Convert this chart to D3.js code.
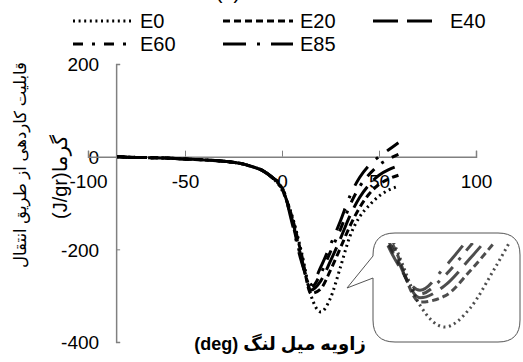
<!DOCTYPE html>
<html>
<head>
<meta charset="utf-8">
<script src="https://cdn.jsdelivr.net/npm/d3@7"></script>
<style>
  body { margin: 0; background: #fff; }
  svg { display: block; font-family: Arial, "Liberation Sans", "DejaVu Sans", sans-serif; }
</style>
</head>
<body>
<svg id="chart" width="523" height="362"></svg>
<script>
// crank angle (deg) and heat release per series (J/gr)
const angles = [-85, -80, -70, -60, -50, -40, -30, -20, -15, -10, -5, 0, 5, 10, 15, 20, 25, 30, 35, 40, 45, 50, 55, 60];
const e0  = [0, -1, -2, -3, -5, -7, -10, -16, -22, -30, -45, -72, -125, -205, -300, -335, -305, -240, -172, -130, -105, -85, -72, -64];
const e20 = [0, -1, -2, -3, -5, -7, -10, -16, -22, -30, -45, -70, -128, -210, -295, -285, -245, -198, -150, -110, -80, -60, -48, -40];
const e40 = [0, -1, -2, -3, -5, -7, -10, -16, -22, -30, -45, -68, -132, -218, -288, -268, -225, -178, -128, -88, -60, -40, -28, -20];
const e60 = [0, -1, -2, -3, -5, -7, -10, -16, -22, -30, -45, -66, -136, -222, -282, -252, -205, -158, -105, -65, -38, -18, -5, 5];
const e85 = [0, -1, -2, -3, -5, -7, -10, -16, -22, -30, -45, -64, -140, -226, -276, -238, -190, -140, -85, -45, -18, 0, 15, 30];

const seriesNames = ["E0", "E20", "E40", "E60", "E85"];
const seriesValues = [e0, e20, e40, e60, e85];
const dashes = ["2,3.6", "7,4", "25,9", "10,9,3,9", "23,11,3,11"];

const xTicks = [-100, -50, 0, 50, 100];
const yTicks = [-400, -200, 0, 200];

const svg = d3.select("#chart");
svg.append("rect").attr("width", 523).attr("height", 362).attr("fill", "#fff");

const x = d3.scaleLinear().domain([-100, 100]).range([88, 476]);
const y = d3.scaleLinear().domain([-400, 200]).range([342, 64]);
const yCross = -85.5;

// title, cut by the top edge as in the original
svg.append("text").attr("x", 228).attr("y", -1).attr("text-anchor", "middle")
  .attr("font-size", 20).text("(a)");

// y axis
const gy = svg.append("g")
  .attr("transform", "translate(" + x(yCross) + ",0)")
  .call(d3.axisLeft(y).tickValues(yTicks).tickFormat(d => String(d)).tickSize(-4).tickPadding(17));

// x axis at zero
const gx = svg.append("g")
  .attr("transform", "translate(0," + y(0) + ")")
  .call(d3.axisBottom(x).tickValues(xTicks).tickFormat(d => String(d)).tickSize(-6).tickPadding(18));

[gx, gy].forEach(g => {
  g.select(".domain").attr("stroke", "#808080").attr("stroke-width", 1.5);
  g.selectAll(".tick line").attr("stroke", "#808080").attr("stroke-width", 1);
  g.selectAll("text").attr("font-size", 19).attr("fill", "#000")
    .attr("font-family", "Arial, 'Liberation Sans', sans-serif");
});
gy.selectAll("text").attr("dy", "0.36em");

// axis titles
svg.append("text")
  .attr("transform", "translate(26,165) rotate(-90)")
  .attr("text-anchor", "middle").attr("direction", "rtl")
  .attr("font-size", 16.5)
  .text("قابلیت کاردهی از طریق انتقال");
svg.append("text")
  .attr("transform", "translate(67,177) rotate(-90)")
  .attr("text-anchor", "middle").attr("direction", "rtl")
  .attr("font-size", 20)
  .text("گرما(J/gr)");
svg.append("text")
  .attr("x", 280).attr("y", 350)
  .attr("text-anchor", "middle").attr("direction", "rtl")
  .attr("font-size", 18).attr("font-weight", "bold")
  .text("زاویه میل لنگ (deg)");

// curves
const line = d3.line()
  .x((d, i) => x(angles[i]))
  .y(d => y(d))
  .curve(d3.curveMonotoneX);

svg.append("g").selectAll("path")
  .data(seriesValues)
  .enter()
  .append("path")
  .attr("d", d => line(d))
  .attr("fill", "none")
  .attr("stroke", "#000")
  .attr("stroke-width", 3)
  .attr("stroke-dasharray", (d, i) => dashes[i]);

// legend
const legendPos = [[73, 21], [223, 21], [373, 21], [73, 44], [223, 44]];
const legendLen = [60, 70, 60, 60, 70];
const legend = svg.append("g").selectAll("g")
  .data(seriesNames)
  .enter()
  .append("g")
  .attr("transform", (d, i) => "translate(" + legendPos[i][0] + "," + legendPos[i][1] + ")");
legend.append("line")
  .attr("x1", 0).attr("x2", (d, i) => legendLen[i])
  .attr("stroke", "#000").attr("stroke-width", 3)
  .attr("stroke-dasharray", (d, i) => dashes[i]);
legend.append("text")
  .attr("x", (d, i) => i == 2 ? 77 : legendLen[i] + 7)
  .attr("y", 7)
  .attr("font-size", 20)
  .text(d => d);

// callout with zoomed view of the minimum
const bx0 = 373, by0 = 233, bx1 = 520, by1 = 342, r = 22;
const callout = "M" + (bx0 + r) + "," + by0 +
  " H" + (bx1 - r) + " Q" + bx1 + "," + by0 + " " + bx1 + "," + (by0 + r) +
  " V" + (by1 - r) + " Q" + bx1 + "," + by1 + " " + (bx1 - r) + "," + by1 +
  " H" + (bx0 + r) + " Q" + bx0 + "," + by1 + " " + bx0 + "," + (by1 - r) +
  " V278 L347,288 L" + bx0 + ",256" +
  " V" + (by0 + r) + " Q" + bx0 + "," + by0 + " " + (bx0 + r) + "," + by0 + " Z";
svg.append("path").attr("d", callout)
  .attr("fill", "#fff").attr("stroke", "#555").attr("stroke-width", 1);

const defs = svg.append("defs");
defs.append("clipPath").attr("id", "inset-clip")
  .append("rect").attr("x", 383).attr("y", 243).attr("width", 130).attr("height", 92);
defs.append("filter").attr("id", "soft")
  .append("feGaussianBlur").attr("stdDeviation", 0.6);

const ix = d3.scaleLinear().domain([9, 33]).range([390, 510]);
const iy = d3.scaleLinear().domain([-200, -335]).range([243, 327]);
const insetLine = d3.line()
  .x((d, i) => ix(angles[i]))
  .y(d => iy(d))
  .curve(d3.curveMonotoneX);

svg.append("g")
  .attr("clip-path", "url(#inset-clip)")
  .attr("filter", "url(#soft)")
  .selectAll("path")
  .data(seriesValues)
  .enter()
  .append("path")
  .attr("d", d => insetLine(d))
  .attr("fill", "none")
  .attr("stroke", "#222")
  .attr("stroke-opacity", 0.8)
  .attr("stroke-width", 3)
  .attr("stroke-dasharray", (d, i) => dashes[i]);
</script>
</body>
</html>
